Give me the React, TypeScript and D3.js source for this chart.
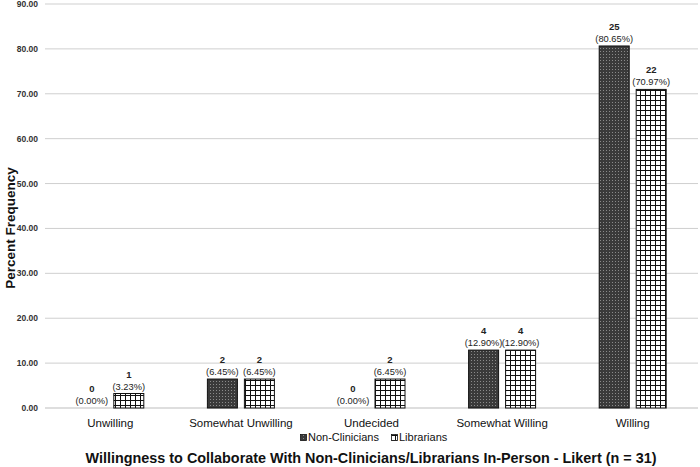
import React from "react";
import * as d3 from "d3";

const categories = ["Unwilling", "Somewhat Unwilling", "Undecided", "Somewhat Willing", "Willing"];
const seriesNames = ["Non-Clinicians", "Librarians"];
const nonClinicianCounts = [0, 2, 0, 4, 25];
const nonClinicianPercents = [0.0, 6.45, 0.0, 12.9, 80.65];
const librarianCounts = [1, 2, 2, 4, 22];
const librarianPercents = [3.23, 6.45, 6.45, 12.9, 70.97];
const yTicks = [0, 10, 20, 30, 40, 50, 60, 70, 80, 90];

const W = 700;
const H = 467;
const plot = { left: 45, right: 698, top: 4, bottom: 408 };
const FONT = "'Liberation Sans', Arial, sans-serif";

export default function App() {
  const x = d3.scaleBand<string>().domain(categories).range([plot.left, plot.right]);
  const y = d3.scaleLinear().domain([0, 90]).range([plot.bottom, plot.top]);
  const barW = 30;
  const gap = 7;

  const series = [
    { name: seriesNames[0], counts: nonClinicianCounts, pcts: nonClinicianPercents, fill: "url(#pat-nc)" },
    { name: seriesNames[1], counts: librarianCounts, pcts: librarianPercents, fill: "url(#pat-lib)" },
  ];

  const barX = (cat: string, si: number) => {
    const c = (x(cat) ?? 0) + x.bandwidth() / 2;
    return si === 0 ? c - gap / 2 - barW : c + gap / 2;
  };

  return (
    <svg width={W} height={H} style={{ position: "absolute", left: 0, top: 0, background: "#fff" }} fontFamily={FONT}>
      <defs>
        <pattern id="pat-nc" width="3" height="3" patternUnits="userSpaceOnUse">
          <rect width="3" height="3" fill="#3a3a3a" />
          <rect x="0" y="0" width="1" height="1" fill="#8a8a8a" />
        </pattern>
        <pattern id="pat-lib" width="5" height="5" patternUnits="userSpaceOnUse">
          <rect width="5" height="5" fill="#fff" />
          <line x1="0.5" y1="0" x2="0.5" y2="5" stroke="#111" strokeWidth="1" />
          <line x1="0" y1="0.5" x2="5" y2="0.5" stroke="#111" strokeWidth="1" />
        </pattern>
      </defs>

      {/* gridlines and y tick labels */}
      {yTicks.map((t) => (
        <g key={t}>
          <line x1={plot.left} x2={plot.right} y1={y(t)} y2={y(t)} stroke={t === 0 ? "#bdbdbd" : "#cfcfcf"} strokeWidth={1} />
          <text x={38} y={y(t) + 3} textAnchor="end" fontSize={8.5} fontWeight="bold" fill="#333">
            {t.toFixed(2)}
          </text>
        </g>
      ))}

      {/* bars with value labels */}
      {series.map((s, si) =>
        categories.map((cat, i) => {
          const bx = barX(cat, si);
          const top = y(s.pcts[i]);
          const h = plot.bottom - top;
          const cx = bx + barW / 2;
          return (
            <g key={`${si}-${i}`}>
              {h > 0 && (
                <rect x={bx} y={top} width={barW} height={h} fill={s.fill} stroke="#111" strokeWidth={1} />
              )}
              <text x={cx} y={top - 16} textAnchor="middle" fontSize={9.5} fontWeight="bold" fill="#222">
                {s.counts[i]}
              </text>
              <text x={cx} y={top - 4} textAnchor="middle" fontSize={9.3} fill="#222">
                ({s.pcts[i].toFixed(2)}%)
              </text>
            </g>
          );
        })
      )}

      {/* category labels */}
      {categories.map((cat) => (
        <text key={cat} x={(x(cat) ?? 0) + x.bandwidth() / 2} y={427} textAnchor="middle" fontSize={11.5} fill="#111">
          {cat}
        </text>
      ))}

      {/* legend */}
      <g>
        <rect x={300.5} y={434.5} width={6} height={6} fill="url(#pat-nc)" stroke="#111" strokeWidth={0.8} />
        <text x={308} y={441} fontSize={11} fill="#111">{seriesNames[0]}</text>
        <rect x={391.5} y={434.5} width={6} height={6} fill="url(#pat-lib)" stroke="#111" strokeWidth={0.8} />
        <text x={399} y={441} fontSize={11} fill="#111">{seriesNames[1]}</text>
      </g>

      {/* axis titles */}
      <text x={371} y={463} textAnchor="middle" fontSize={14.4} fontWeight="bold" fill="#111">
        Willingness to Collaborate With Non-Clinicians/Librarians In-Person - Likert (n = 31)
      </text>
      <text transform={`translate(15, 228) rotate(-90)`} textAnchor="middle" fontSize={13.5} fontWeight="bold" fill="#111">
        Percent Frequency
      </text>
    </svg>
  );
}
